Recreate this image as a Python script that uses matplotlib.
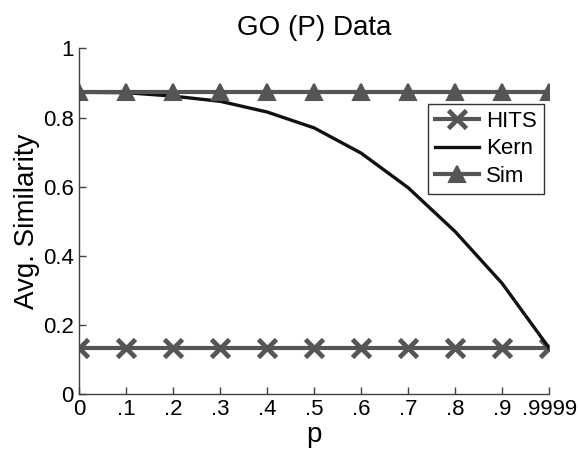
import matplotlib.pyplot as plt

plt.rcParams['font.family'] = ['Liberation Sans', 'DejaVu Sans']

# Data
p_labels = ['0', '.1', '.2', '.3', '.4', '.5', '.6', '.7', '.8', '.9', '.9999']
hits = [0.133] * 11
kern = [0.873, 0.872, 0.862, 0.847, 0.816, 0.770, 0.697, 0.597, 0.470, 0.320, 0.133]
sim = [0.873] * 11

x = list(range(len(p_labels)))
gray = '#555555'

fig = plt.figure(figsize=(5.78, 4.57), dpi=100)
ax = fig.add_axes([0.137, 0.138, 0.813, 0.756])

ax.plot(x, hits, '-x', color=gray, lw=3, markersize=13, markeredgewidth=3.4, label='HITS')
ax.plot(x, kern, '-', color='#111111', lw=2.4, label='Kern')
ax.plot(x, sim, '-^', color=gray, lw=3, markersize=11, markeredgewidth=1.5, label='Sim')

ax.set_xlim(0, 10)
ax.set_ylim(0, 1)
ax.set_xticks(x)
ax.set_xticklabels(p_labels)
ax.set_yticks([0, 0.2, 0.4, 0.6, 0.8, 1])
ax.set_yticklabels(['0', '0.2', '0.4', '0.6', '0.8', '1'])
ax.tick_params(direction='in', length=5, width=1, color='#404040', labelsize=16, pad=4)

for side in ['top', 'right']:
    ax.spines[side].set_visible(False)
for side in ['left', 'bottom']:
    ax.spines[side].set_color('#404040')
    ax.spines[side].set_linewidth(1)

ax.set_title('GO (P) Data', fontsize=20, pad=10)
ax.set_xlabel('p', fontsize=20, labelpad=1)
ax.set_ylabel('Avg. Similarity', fontsize=20, labelpad=2)

leg = ax.legend(loc='upper left', bbox_to_anchor=(0.743, 0.839), fontsize=16, frameon=True, fancybox=False,
                edgecolor='black', handlelength=2.0, handletextpad=0.3, borderpad=0.3, labelspacing=0.3,
                borderaxespad=0)
leg.get_frame().set_linewidth(1)

fig.savefig('out.png', dpi=100)
